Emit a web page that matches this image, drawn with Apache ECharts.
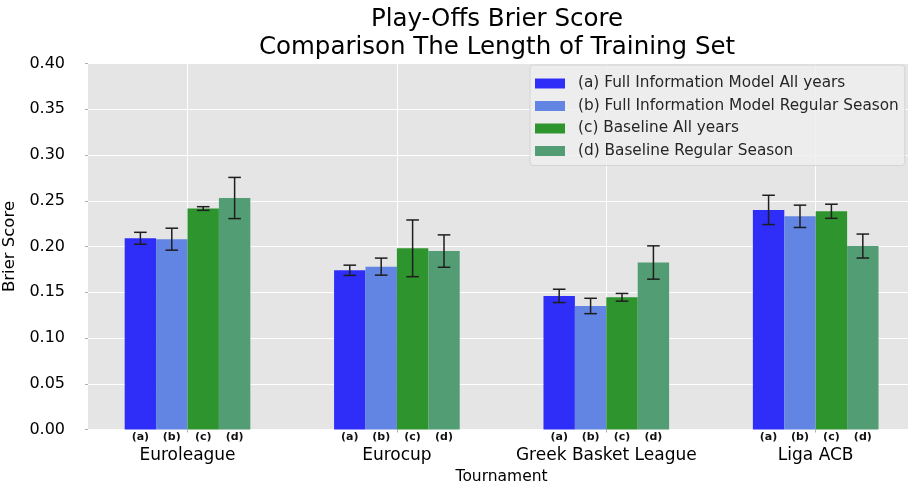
<!DOCTYPE html>
<html>
<head>
<meta charset="utf-8">
<title>Play-Offs Brier Score</title>
<script src="https://cdn.jsdelivr.net/npm/echarts@6/dist/echarts.min.js"></script>
<style>
  html, body { margin: 0; padding: 0; background: #ffffff; }
  #chart { width: 908px; height: 484px; }
</style>
</head>
<body>
<div id="chart"></div>
<script>
// Tournaments on the x axis
const categories = ['Euroleague', 'Eurocup', 'Greek Basket League', 'Liga ACB'];

// Model variants, one bar per tournament each
const seriesNames = [
  '(a) Full Information Model All years',
  '(b) Full Information Model Regular Season',
  '(c) Baseline All years',
  '(d) Baseline Regular Season'
];
const barTags = ['(a)', '(b)', '(c)', '(d)'];

// Mean Brier score per tournament
const scoreA = [0.209, 0.174, 0.146, 0.240];
const scoreB = [0.208, 0.178, 0.135, 0.233];
const scoreC = [0.2415, 0.198, 0.1445, 0.2385];
const scoreD = [0.253, 0.195, 0.1825, 0.2005];

// Half-width of the error bar around each mean
const errA = [0.0065, 0.0056, 0.0073, 0.016];
const errB = [0.012, 0.0093, 0.0084, 0.0122];
const errC = [0.002, 0.031, 0.0042, 0.0077];
const errD = [0.0225, 0.0177, 0.0182, 0.0131];

const scores = [scoreA, scoreB, scoreC, scoreD];
const errors = [errA, errB, errC, errD];
const colors = ['#2e2ef8', '#6284e2', '#2e942e', '#539d74'];

const FONT = 'DejaVu Sans';
const BAR_FRAC = 0.15;   // bar width as a share of the category band
const Y_MIN = 0, Y_MAX = 0.4, Y_STEP = 0.05;

const chart = echarts.init(document.getElementById('chart'), null, { renderer: 'canvas' });

const barSeries = scores.map((vals, k) => ({
  name: seriesNames[k],
  type: 'bar',
  xAxisIndex: 1,
  yAxisIndex: 1,
  data: vals,
  barWidth: (BAR_FRAC * 100) + '%',
  barGap: '0%',
  itemStyle: { color: colors[k] },
  label: {
    show: true,
    position: 'bottom',
    distance: 2,
    formatter: () => barTags[k],
    fontFamily: FONT,
    fontSize: 11,
    fontWeight: 'bold',
    color: '#111'
  },
  z: 2
}));

// error bars: [category index, low, high, series index]
const errData = [];
scores.forEach((vals, k) => {
  vals.forEach((v, i) => {
    errData.push([i, v - errors[k][i], v + errors[k][i], k]);
  });
});

const errorSeries = {
  type: 'custom',
  xAxisIndex: 1,
  yAxisIndex: 1,
  data: errData,
  z: 5,
  silent: true,
  renderItem(params, api) {
    const ci = api.value(0);
    const k = api.value(3);
    const band = api.size([1, 0])[0];
    const x = api.coord([ci, 0])[0] + (k - 1.5) * BAR_FRAC * band;
    const yLo = api.coord([ci, api.value(1)])[1];
    const yHi = api.coord([ci, api.value(2)])[1];
    const cap = 6.3;
    const style = { stroke: '#1e1e1e', lineWidth: 1.5, fill: null };
    return {
      type: 'group',
      children: [
        { type: 'line', shape: { x1: x, y1: yLo, x2: x, y2: yHi }, style },
        { type: 'line', shape: { x1: x - cap, y1: yHi, x2: x + cap, y2: yHi }, style },
        { type: 'line', shape: { x1: x - cap, y1: yLo, x2: x + cap, y2: yLo }, style }
      ]
    };
  }
};

const option = {
  animation: false,
  textStyle: { fontFamily: FONT },
  title: {
    text: 'Play-Offs Brier Score\nComparison The Length of Training Set',
    left: 492,
    top: 1,
    textAlign: 'center',
    textStyle: {
      fontFamily: FONT,
      fontSize: 24.5,
      fontWeight: 'normal',
      lineHeight: 28,
      color: '#000'
    }
  },
  legend: {
    orient: 'vertical',
    left: 530,
    top: 65,
    data: seriesNames,
    icon: 'rect',
    itemWidth: 30,
    itemHeight: 10,
    itemGap: 7.5,
    padding: [11, 6, 7, 5],
    backgroundColor: 'rgba(238,238,238,0.85)',
    borderColor: '#d4d4d4',
    borderWidth: 1,
    borderRadius: 3,
    textStyle: {
      fontFamily: FONT,
      fontSize: 15.3,
      color: '#262626',
      padding: [0, 0, 0, 8]
    }
  },
  grid: [
    // plot background and horizontal grid
    { left: 88, right: 0, top: 63.5, bottom: 54.5, show: true, backgroundColor: '#e5e5e5', borderWidth: 0, outerBoundsMode: 'none' },
    // bar layout (category bands)
    { left: 82.8, right: -12.4, top: 63.5, bottom: 54.5, show: false, outerBoundsMode: 'none' }
  ],
  xAxis: [
    { gridIndex: 0, type: 'value', min: 0, max: 1, show: false },
    {
      gridIndex: 1,
      type: 'category',
      data: categories,
      name: 'Tournament',
      nameLocation: 'middle',
      nameGap: 35,
      nameTextStyle: { fontFamily: FONT, fontSize: 15.5, color: '#000' },
      axisLine: { show: false },
      axisTick: { show: true, alignWithLabel: true, interval: 0, length: 3, lineStyle: { color: '#b0b0b0' } },
      axisLabel: { interval: 0, margin: 18, fontFamily: FONT, fontSize: 17, color: '#000' },
      splitLine: { show: true, alignWithLabel: true, interval: 0, lineStyle: { color: '#ffffff', width: 1 } }
    }
  ],
  yAxis: [
    {
      gridIndex: 0,
      type: 'value',
      min: Y_MIN,
      max: Y_MAX,
      interval: Y_STEP,
      name: 'Brier Score',
      nameLocation: 'middle',
      nameRotate: 90,
      nameGap: 62,
      nameTextStyle: { fontFamily: FONT, fontSize: 16.5, color: '#000' },
      axisLine: { show: false },
      axisTick: { show: true, length: 3, lineStyle: { color: '#b0b0b0' } },
      axisLabel: {
        margin: 23,
        fontFamily: FONT,
        fontSize: 16,
        color: '#000',
        formatter: v => v.toFixed(2)
      },
      splitLine: { show: true, lineStyle: { color: '#ffffff', width: 1 } }
    },
    { gridIndex: 1, type: 'value', min: Y_MIN, max: Y_MAX, interval: Y_STEP, show: false, splitLine: { show: false } }
  ],
  series: [...barSeries, errorSeries]
};

chart.setOption(option);
</script>
</body>
</html>
